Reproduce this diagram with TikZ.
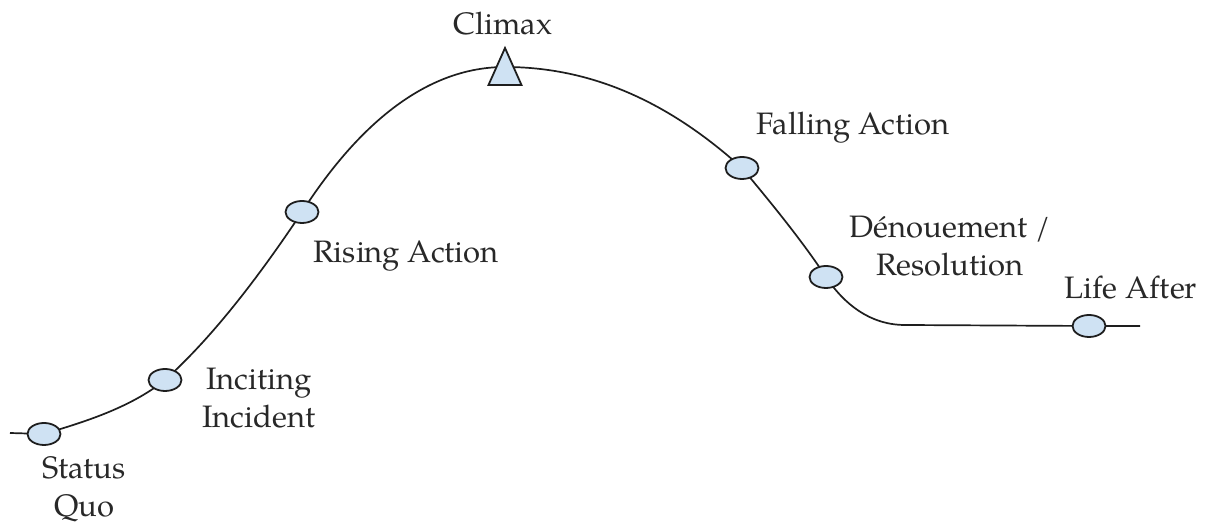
\documentclass[tikz,border=0pt]{standalone}
\usepackage{fontspec}
\setmainfont{texgyrepagella}[Extension=.otf, UprightFont=*-regular, BoldFont=*-bold, ItalicFont=*-italic, BoldItalicFont=*-bolditalic]
\usetikzlibrary{shapes.geometric}
\definecolor{ptfill}{RGB}{207,226,243}
\definecolor{txt}{RGB}{40,40,40}
\definecolor{ln}{RGB}{30,30,30}
\tikzset{
  ptnode/.style={ellipse, draw=ln, fill=ptfill, line width=1.8pt, minimum width=33pt, minimum height=22pt, inner sep=0pt},
  lbl/.style={text=txt, font=\fontsize{31}{38}\selectfont, align=center, inner sep=0pt},
  curve/.style={draw=ln, line width=1.7pt}
}
\begin{document}
\begin{tikzpicture}[x=1pt,y=1pt]
\useasboundingbox (0,0) rectangle (1220,526);
\coordinate (s0) at (10,93);
\coordinate (sq) at (44,92);
\coordinate (ii) at (165,146);
\coordinate (ra) at (302,314);
\coordinate (cl) at (505,459);
\coordinate (fa) at (742,358);
\coordinate (dr) at (826,249);
\coordinate (fl) at (905,201);
\coordinate (la) at (1089,200);
\coordinate (e) at (1140,200);
\draw[curve] (s0) -- (sq)
  .. controls (84,104) and (130,118) .. (ii)
  .. controls (215,191) and (262,254) .. (ra)
  .. controls (347,384) and (415,459) .. (cl)
  .. controls (605,459) and (682,412) .. (fa)
  .. controls (767,328) and (801,287) .. (dr)
  .. controls (844,222) and (870,201) .. (fl)
  -- (la) -- (e);
\node[ptnode] (nsq) at (sq) {};
\node[ptnode] (nii) at (ii) {};
\node[ptnode] (nra) at (ra) {};
\node[ptnode] (nfa) at (fa) {};
\node[ptnode] (ndr) at (dr) {};
\node[ptnode] (nla) at (la) {};
\draw[draw=ln, fill=ptfill, line width=1.8pt, line join=miter]
  ([shift={(-16.5,-18)}]cl) -- ([shift={(16.5,-18)}]cl) -- ([shift={(0,19)}]cl) -- cycle;
\node[lbl] (tcl) at (503,502) {Climax};
\node[lbl] (tfa) at (853,398) {Falling Action};
\node[lbl] (tra) at (406,270) {Rising Action};
\node[lbl] (tii) at (259,128) {Inciting\\Incident};
\node[lbl] (tsq) at (84,37) {Status\\Quo};
\node[lbl] (tdr) at (950,280) {D\'enouement /\\Resolution};
\node[lbl] (tla) at (1131,238) {Life After};
\end{tikzpicture}
\end{document}
